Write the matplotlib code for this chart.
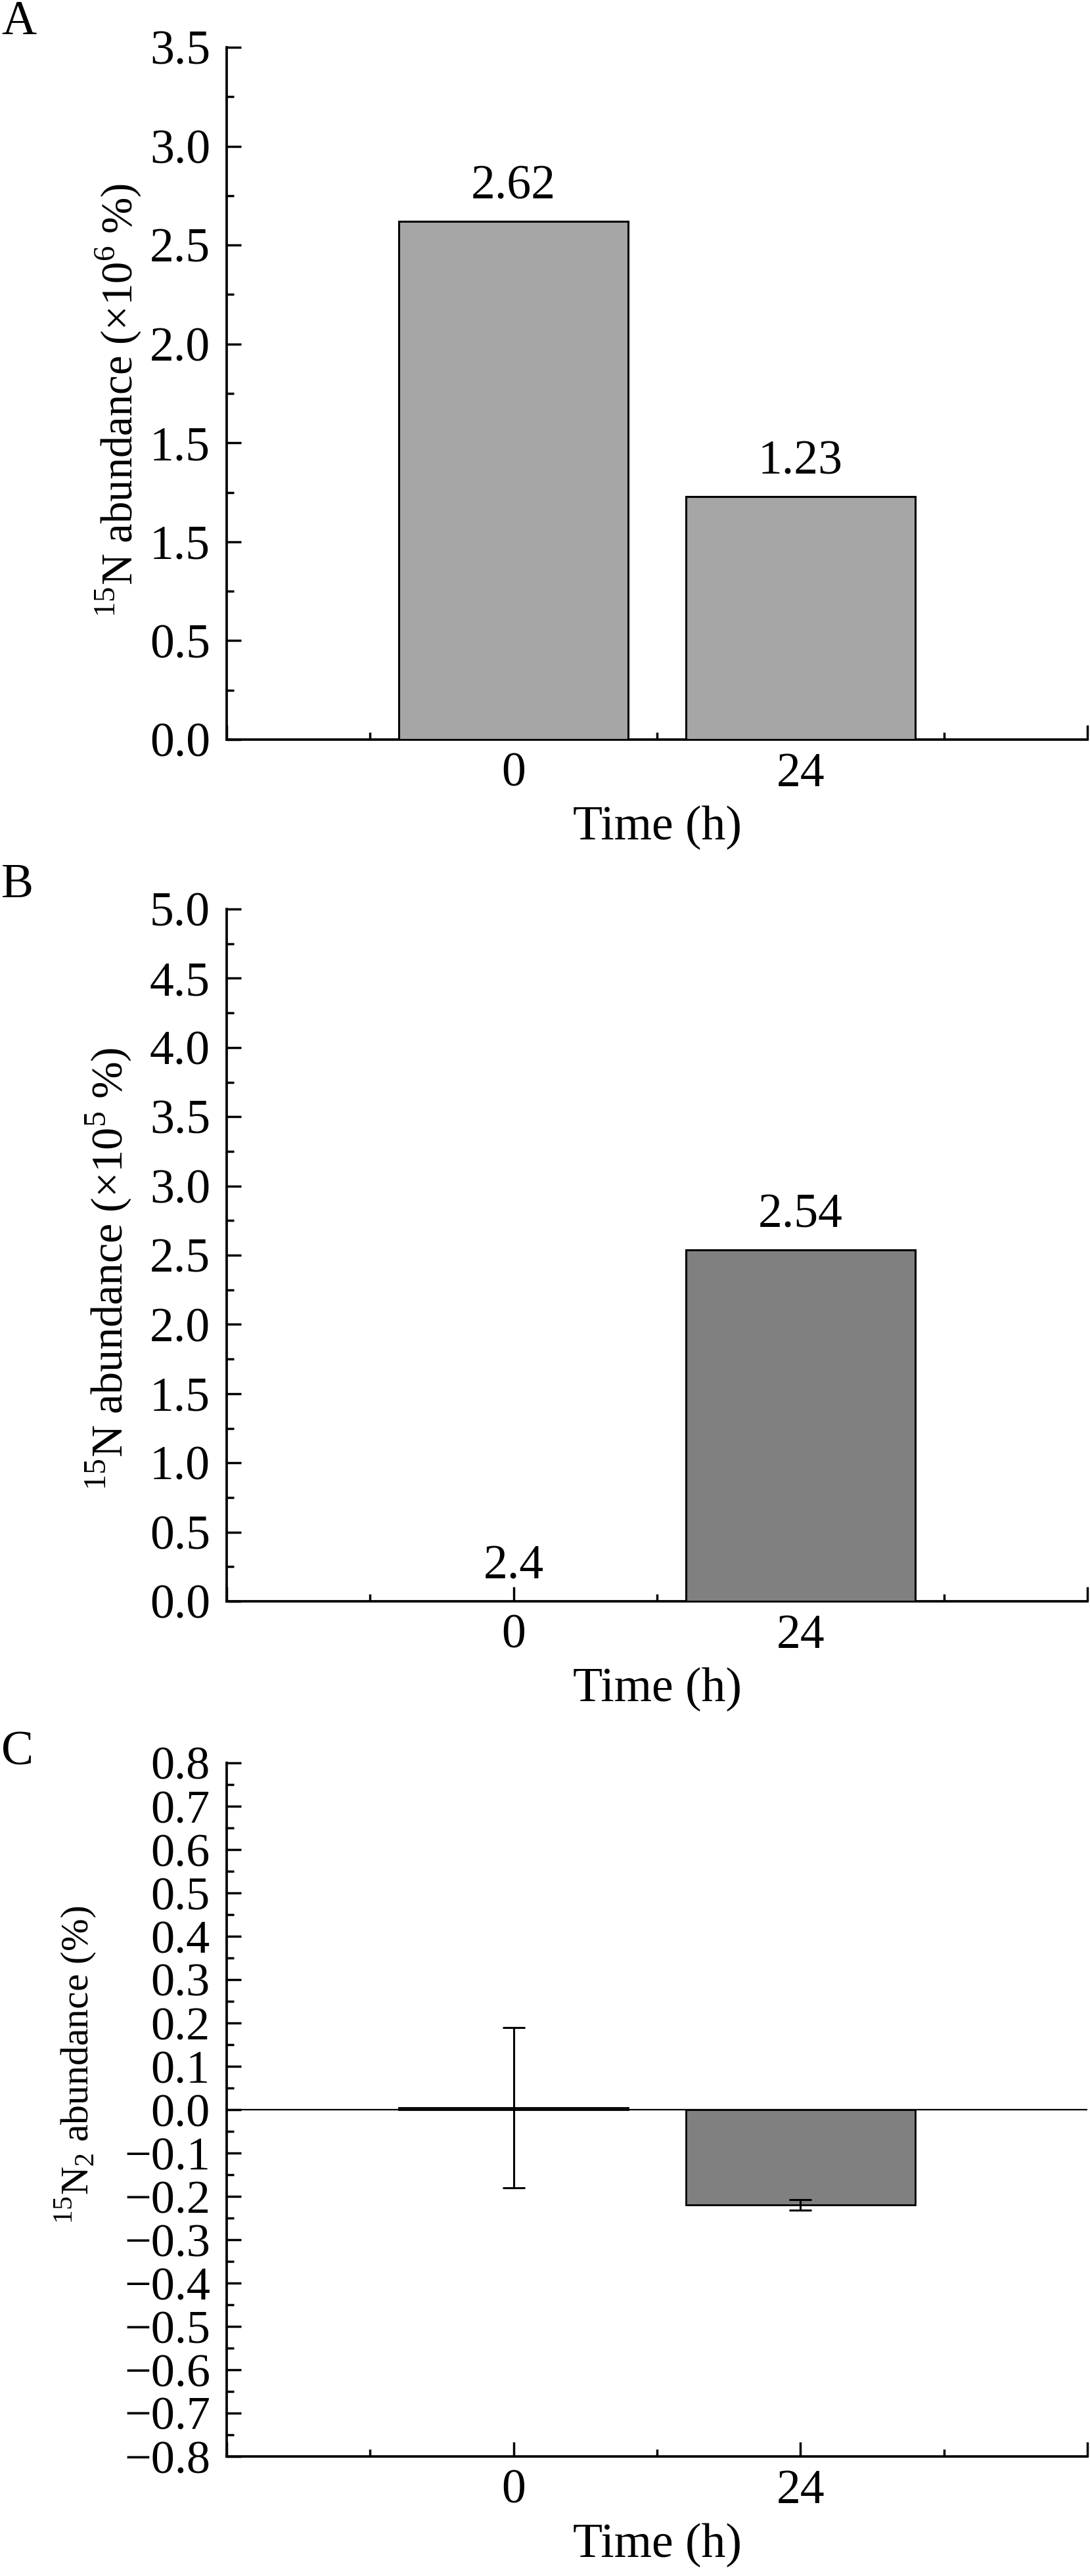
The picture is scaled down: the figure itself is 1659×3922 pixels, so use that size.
import matplotlib.pyplot as plt
from matplotlib.ticker import MultipleLocator, FixedLocator, FuncFormatter

plt.rcParams['font.family'] = ['Liberation Serif', 'DejaVu Serif']
plt.rcParams['mathtext.fontset'] = 'custom'
plt.rcParams['mathtext.rm'] = 'Liberation Serif'

# data
times = ['0', '24']
a_vals = [2.62, 1.23]
a_labels = ['2.62', '1.23']
b_vals = [0.000024, 2.54]
b_labels = ['2.4', '2.54']
c_vals = [0.005, -0.22]
c_errs = [0.185, 0.012]

# y tick labels of panel A as printed in the figure
a_yticks = [0.0, 0.5, 1.0, 1.5, 2.0, 2.5, 3.0, 3.5]
a_yticklabels = ['0.0', '0.5', '1.5', '1.5', '2.0', '2.5', '3.0', '3.5']

W, H = 1659, 3922
fig = plt.figure(figsize=(W / 100, H / 100), dpi=100)

FS = 53
LW = 2.7

minus_fmt = FuncFormatter(lambda v, p: ('%.1f' % v).replace('-', '\u2212'))


def box(top_px, bot_px, left_px=345, right_px=1655):
    return [left_px / W, 1 - bot_px / H, (right_px - left_px) / W, (bot_px - top_px) / H]


def style(ax, ymin, ymax, major, minor, fs=FS):
    pos = range(len(times))
    ax.set_xlim(-1, 2)
    ax.xaxis.set_major_locator(FixedLocator([-1, 0, 1, 2]))
    ax.set_xticklabels([''] + times + [''])
    ax.xaxis.set_minor_locator(FixedLocator([-0.5, 0.5, 1.5]))
    ax.set_ylim(ymin, ymax)
    ax.yaxis.set_major_locator(MultipleLocator(major))
    ax.yaxis.set_minor_locator(MultipleLocator(minor))
    ax.yaxis.set_major_formatter(minus_fmt)
    for s in ['top', 'right']:
        ax.spines[s].set_visible(False)
    for s in ['left', 'bottom']:
        ax.spines[s].set_linewidth(LW)
    ax.tick_params(which='both', direction='in', width=2.5)
    ax.tick_params(which='major', length=15.5)
    ax.tick_params(which='minor', length=8)
    ax.tick_params(axis='y', which='major', labelsize=fs, pad=18)
    ax.tick_params(axis='x', which='major', labelsize=FS, pad=14)
    ax.set_xlabel('Time (h)', fontsize=FS, va='center')
    ax.xaxis.set_label_coords(0.5, -0.128)
    return pos


# panel A
axA = fig.add_axes(box(72, 1126))
pos = style(axA, 0, 3.5, 0.5, 0.25)
barsA = axA.bar(pos, a_vals, width=0.8, color='#a6a6a6', edgecolor='black', linewidth=2.2, zorder=3)
axA.bar_label(barsA, labels=a_labels, padding=13, fontsize=FS)
axA.set_yticks(a_yticks)
axA.set_yticklabels(a_yticklabels)
axA.set_ylabel(r'$^{15}$N abundance (×10$^{6}$ %)', fontsize=48, va='center')
axA.yaxis.set_label_coords((180 - 345) / 1310, 0.49)

# panel B
axB = fig.add_axes(box(1384, 2438))
pos = style(axB, 0, 5.0, 0.5, 0.25)
barsB = axB.bar(pos, b_vals, width=0.8, color='#808080', edgecolor='black', linewidth=2.2, zorder=3)
axB.bar_label(barsB, labels=b_labels, padding=13, fontsize=FS)
axB.set_ylabel(r'$^{15}$N abundance (×10$^{5}$ %)', fontsize=49, va='center')
axB.yaxis.set_label_coords((166 - 345) / 1310, 0.48)

# panel C
axC = fig.add_axes(box(2684, 3740))
pos = style(axC, -0.8, 0.8, 0.1, 0.05, fs=52)
axC.axhline(0, color='black', linewidth=1.6, zorder=2)
axC.bar(pos, c_vals, width=0.8, color='#808080', edgecolor='black', linewidth=2.0, zorder=3,
        yerr=c_errs, capsize=12, error_kw=dict(elinewidth=2.2, capthick=2.2, ecolor='black'))
axC.set_ylabel(r'$^{15}$N$_{2}$ abundance (%)', fontsize=43, va='center')
axC.yaxis.set_label_coords((116 - 345) / 1310, 0.565)

# panel letters
fig.text(2 / W, 1 - 1 / H, 'A', fontsize=FS, va='top', ha='left')
fig.text(2 / W, 1 - 1315 / H, 'B', fontsize=FS, va='top', ha='left')
fig.text(2 / W, 1 - 2635 / H, 'C', fontsize=FS, va='top', ha='left')

fig.savefig('out.png', dpi=100)
